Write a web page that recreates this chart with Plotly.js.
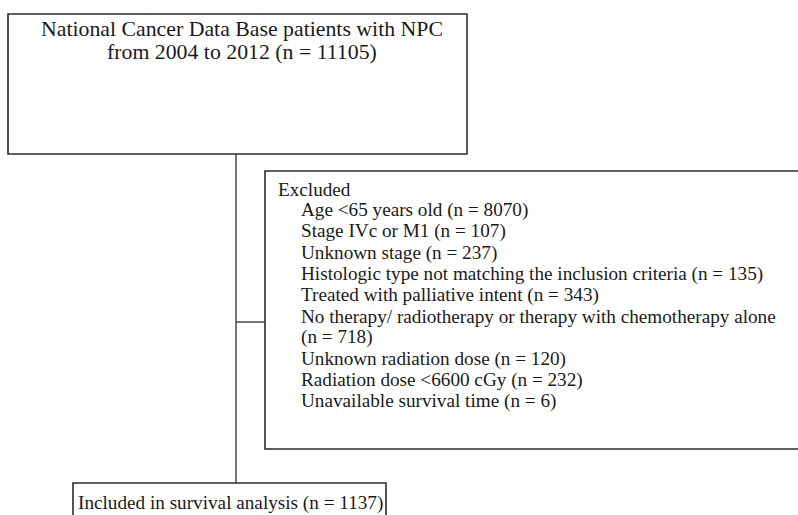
<!DOCTYPE html>
<html>
<head>
<meta charset="utf-8">
<script src="https://cdn.plot.ly/plotly-3.0.1.min.js"></script>
<style>html,body{margin:0;padding:0;background:#fff}#chart{width:798px;height:515px}</style>
</head>
<body>
<div id="chart"></div>
<script>
// ---- data ----
var sourceLabel = ["National Cancer Data Base patients with NPC", "from 2004 to 2012"];
var sourceCount = 11105;
var excludedHeader = "Excluded";
var excludedReasons = [
  "Age <65 years old",
  "Stage IVc or M1",
  "Unknown stage",
  "Histologic type not matching the inclusion criteria",
  "Treated with palliative intent",
  "No therapy/ radiotherapy or therapy with chemotherapy alone",
  "Unknown radiation dose",
  "Radiation dose <6600 cGy",
  "Unavailable survival time"
];
var excludedCounts = [8070, 107, 237, 135, 343, 718, 120, 232, 6];
var includedLabel = "Included in survival analysis";
var includedCount = 1137;

// ---- layout helpers ----
var LINE = "#2b2b2b";
var TXT = "#1a1a1a";
var FONT = "Liberation Serif";
function esc(s){return s.replace(/&/g,"&amp;").replace(/</g,"&lt;").replace(/>/g,"&gt;");}
function nstr(n){return "(n = " + n + ")";}

var shapes = [];
function rect(x0,y0,x1,y1){shapes.push({type:"rect",xref:"x",yref:"y",x0:x0,y0:y0,x1:x1,y1:y1,line:{color:LINE,width:1.6},fillcolor:"rgba(0,0,0,0)",layer:"above"});}
function line(x0,y0,x1,y1){shapes.push({type:"line",xref:"x",yref:"y",x0:x0,y0:y0,x1:x1,y1:y1,line:{color:LINE,width:1.3}});}

rect(8,14,467,154);
rect(265,171,805,449);
rect(73,483,386,525);
line(236,154,236,483);
line(236,322,265,322);

var ann = [];
function txt(x,y,s,size,anchor){ann.push({x:x,y:y,xref:"x",yref:"y",text:esc(s),showarrow:false,xanchor:anchor||"left",yanchor:"middle",font:{family:FONT,size:size,color:TXT}});}

txt(242,29,sourceLabel[0],21.8,"center");
txt(242,52,sourceLabel[1] + " " + nstr(sourceCount),21.8,"center");

var ex0 = 189, dy = 21.2, sz = 19.2;
txt(276,ex0,excludedHeader,sz);
var row = 1;
for (var i=0;i<excludedReasons.length;i++){
  if (excludedReasons[i].indexOf("No therapy")===0){
    txt(299,ex0+row*dy,excludedReasons[i],sz); row++;
    txt(299,ex0+row*dy,nstr(excludedCounts[i]),sz); row++;
  } else {
    txt(299,ex0+row*dy,excludedReasons[i]+" "+nstr(excludedCounts[i]),sz); row++;
  }
}
txt(76,503,includedLabel+" "+nstr(includedCount),sz);

var layout = {
  width:798,height:515,
  margin:{l:0,r:0,t:0,b:0},
  paper_bgcolor:"#fff",plot_bgcolor:"#fff",
  xaxis:{range:[0,798],visible:false,fixedrange:true},
  yaxis:{range:[515,0],visible:false,fixedrange:true},
  shapes:shapes,annotations:ann,showlegend:false
};
Plotly.newPlot("chart",[{x:[0],y:[0],mode:"markers",marker:{opacity:0},hoverinfo:"skip"}],layout,{staticPlot:true,displayModeBar:false});
</script>
</body>
</html>
